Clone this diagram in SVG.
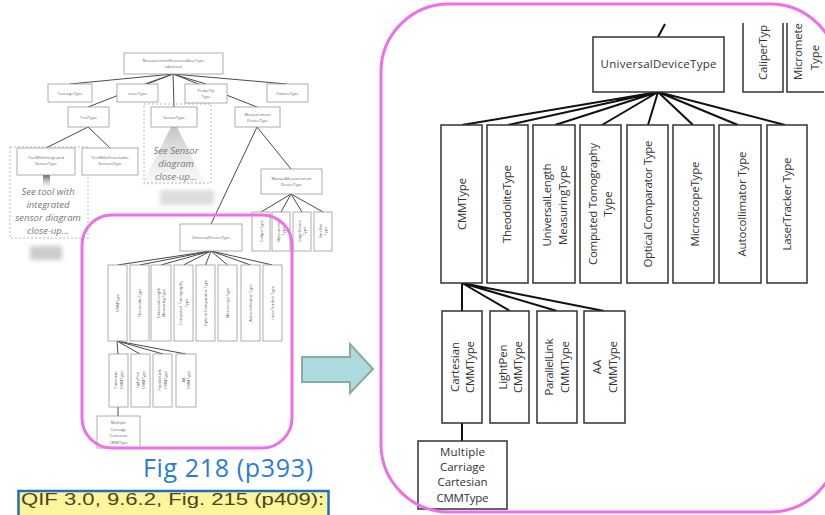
<svg xmlns="http://www.w3.org/2000/svg" width="825" height="515" viewBox="0 0 825 515">
<style>
.tb{fill:#fff;stroke:#9a9a9a;stroke-width:0.8}
.tl{stroke:#4a4a4a;stroke-width:1;fill:none}
.tt{font-family:"Open Sans",sans-serif;font-size:4px;fill:#666;text-anchor:middle}
.dash{fill:none;stroke:#aaa;stroke-width:0.8;stroke-dasharray:2,2}
.note{font-family:"Open Sans",sans-serif;font-style:italic;font-size:9.5px;fill:#777;text-anchor:middle}
.bb{fill:#fff;stroke:#333;stroke-width:1.5}
.bl{stroke:#111;stroke-width:2;fill:none}
.bt{font-family:"Open Sans",sans-serif;font-size:11.5px;fill:#333;text-anchor:middle}
.pink{fill:none;stroke:#ee6fe8;stroke-width:3}
</style>
<defs>
<linearGradient id="spot" x1="0" y1="0" x2="0" y2="1">
<stop offset="0" stop-color="#aaa" stop-opacity="0.7"/>
<stop offset="1" stop-color="#e4e4e4" stop-opacity="0.2"/>
</linearGradient>
<linearGradient id="bar" x1="0" y1="0" x2="0" y2="1">
<stop offset="0" stop-color="#555" stop-opacity="0.9"/>
<stop offset="1" stop-color="#bbb" stop-opacity="0"/>
</linearGradient>
<filter id="blur" x="-20%" y="-50%" width="140%" height="200%"><feGaussianBlur stdDeviation="2"/></filter>
</defs>
<rect width="825" height="515" fill="#fff"/>

<!-- decorative faded bits -->
<polygon points="171,127 177,127 206,185 142,185" fill="url(#spot)"/>
<rect x="43" y="175" width="7" height="13" fill="url(#bar)"/>
<rect x="30" y="246" width="32" height="14" fill="#ccc" filter="url(#blur)"/>
<rect x="160" y="190" width="54" height="15" fill="#ddd" filter="url(#blur)"/>

<!-- thumbnail connectors -->
<g id="thumb-connectors" class="tl">
<path d="M173 74 L70 84 M173 74 L145 84 M173 74 L88 107 M173 74 L174 107 M173 74 L206 84 M173 74 L257 107 M173 74 L287 84"/>
<path d="M88 127 L46 148 M88 127 L110 148"/>
<path d="M257 127 L211 224 M257 127 L291 169"/>
<path d="M291 194 L261 212 M291 194 L281 212 M291 194 L302 212 M291 194 L323 212"/>
<path d="M211 251 L117.5 265 M211 251 L139.5 265 M211 251 L161 265 M211 251 L183.5 265 M211 251 L205.5 265 M211 251 L227.5 265 M211 251 L250.5 265 M211 251 L272.5 265"/>
<path d="M117 341 L118 354 M117 341 L140 354 M117 341 L163 354 M117 341 L186 354"/>
<path d="M118 407 L118 416"/>
</g>

<!-- thumbnail nodes -->
<g id="t-base"><rect class="tb" x="124" y="53" width="99" height="21"/><text class="tt" x="173.5" y="62">MeasurementResourceBaseType</text><text class="tt" x="173.5" y="68">(abstract)</text></g>
<g id="t-carriage"><rect class="tb" x="48" y="84" width="44" height="18"/><text class="tt" x="70" y="94.5">CarriageType</text></g>
<g id="t-laser"><rect class="tb" x="117" y="84" width="41" height="18"/><text class="tt" x="137.5" y="94.5">LaserType</text></g>
<g id="t-probetip"><rect class="tb" x="185" y="84" width="42" height="19"/><text class="tt" x="206" y="92">ProbeTip</text><text class="tt" x="206" y="97.5">Type</text></g>
<g id="t-fixture"><rect class="tb" x="267" y="84" width="41" height="18"/><text class="tt" x="287.5" y="94.5">FixtureType</text></g>
<g id="t-tool"><rect class="tb" x="68" y="107" width="41" height="20"/><text class="tt" x="88.5" y="118.5">ToolType</text></g>
<g id="t-sensor"><rect class="dash" x="144" y="104" width="67" height="79"/><rect class="tb" x="151" y="107" width="46" height="20"/><text class="tt" x="174" y="118.5">SensorType</text>
<text class="note" x="176" y="154">See Sensor</text><text class="note" x="176" y="167">diagram</text><text class="note" x="176" y="180">close-up...</text></g>
<g id="t-measdev"><rect class="tb" x="235" y="107" width="45" height="20"/><text class="tt" x="257.5" y="115.5">Measurement</text><text class="tt" x="257.5" y="121.5">DeviceType</text></g>
<g id="t-toolint"><rect class="dash" x="10" y="147" width="78" height="91"/><rect class="tb" x="17" y="148" width="58" height="27"/><text class="tt" x="46" y="159">ToolWithIntegrated</text><text class="tt" x="46" y="165">SensorType</text>
<text class="note" x="48" y="195">See tool with</text><text class="note" x="48" y="208">integrated</text><text class="note" x="48" y="221">sensor diagram</text><text class="note" x="48" y="234">close-up...</text></g>
<g id="t-tooldet"><rect class="tb" x="82" y="148" width="56" height="27"/><text class="tt" x="110" y="159">ToolWithDetachable</text><text class="tt" x="110" y="165">SensorsType</text></g>
<g id="t-manual"><rect class="tb" x="261" y="169" width="61" height="25"/><text class="tt" x="291.5" y="179.5">ManualMeasurement</text><text class="tt" x="291.5" y="186">DeviceType</text></g>
<g id="t-caliper"><rect class="tb" x="252" y="212" width="18" height="39"/><text class="tt" transform="translate(262.5,231) rotate(-90)">CaliperType</text></g>
<g id="t-micrometer"><rect class="tb" x="272" y="212" width="18" height="39"/><text class="tt" transform="translate(280,231) rotate(-90)">Micrometer</text><text class="tt" transform="translate(285,231) rotate(-90)">Type</text></g>
<g id="t-gage"><rect class="tb" x="293" y="212" width="18" height="39"/><text class="tt" transform="translate(301,231) rotate(-90)">GageDevice</text><text class="tt" transform="translate(306,231) rotate(-90)">Type</text></g>
<g id="t-sinebar"><rect class="tb" x="314" y="212" width="18" height="39"/><text class="tt" transform="translate(322,231) rotate(-90)">SineBar</text><text class="tt" transform="translate(327,231) rotate(-90)">Type</text></g>
<g id="t-udt"><rect class="tb" x="180" y="224" width="62" height="27"/><text class="tt" x="211" y="239">UniversalDeviceType</text></g>
<g id="t-cmm"><rect class="tb" x="108" y="265" width="19" height="76"/><text class="tt" transform="translate(119,303) rotate(-90)">CMMType</text></g>
<g id="t-theo"><rect class="tb" x="130" y="265" width="19" height="76"/><text class="tt" transform="translate(141,303) rotate(-90)">TheodoliteType</text></g>
<g id="t-ulm"><rect class="tb" x="151" y="265" width="20" height="76"/><text class="tt" transform="translate(159.5,303) rotate(-90)">UniversalLength</text><text class="tt" transform="translate(165,303) rotate(-90)">MeasuringType</text></g>
<g id="t-ct"><rect class="tb" x="174" y="265" width="19" height="76"/><text class="tt" transform="translate(182,303) rotate(-90)">Computed Tomography</text><text class="tt" transform="translate(187.5,303) rotate(-90)">Type</text></g>
<g id="t-optical"><rect class="tb" x="196" y="265" width="19" height="76"/><text class="tt" transform="translate(207,303) rotate(-90)">Optical Comparator Type</text></g>
<g id="t-micro"><rect class="tb" x="218" y="265" width="19" height="76"/><text class="tt" transform="translate(229,303) rotate(-90)">MicroscopeType</text></g>
<g id="t-auto"><rect class="tb" x="241" y="265" width="19" height="76"/><text class="tt" transform="translate(252,303) rotate(-90)">Autocollimator Type</text></g>
<g id="t-laser-tr"><rect class="tb" x="263" y="265" width="19" height="76"/><text class="tt" transform="translate(274,303) rotate(-90)">LaserTracker Type</text></g>
<g id="t-cart"><rect class="tb" x="109" y="354" width="19" height="53"/><text class="tt" transform="translate(117,380) rotate(-90)">Cartesian</text><text class="tt" transform="translate(122.5,380) rotate(-90)">CMMType</text></g>
<g id="t-light"><rect class="tb" x="131" y="354" width="19" height="53"/><text class="tt" transform="translate(139,380) rotate(-90)">LightPen</text><text class="tt" transform="translate(144.5,380) rotate(-90)">CMMType</text></g>
<g id="t-par"><rect class="tb" x="153" y="354" width="19" height="53"/><text class="tt" transform="translate(161,380) rotate(-90)">ParallelLink</text><text class="tt" transform="translate(166.5,380) rotate(-90)">CMMType</text></g>
<g id="t-aa"><rect class="tb" x="176" y="354" width="20" height="53"/><text class="tt" transform="translate(184.5,380) rotate(-90)">AA</text><text class="tt" transform="translate(190,380) rotate(-90)">CMMType</text></g>
<g id="t-multi"><rect class="tb" x="97" y="416" width="43" height="32"/><text class="tt" x="118.5" y="424">Multiple</text><text class="tt" x="118.5" y="430.5">Carriage</text><text class="tt" x="118.5" y="437">Cartesian</text><text class="tt" x="118.5" y="443.5">CMMType</text></g>

<rect class="pink" x="82" y="215" width="210" height="233" rx="30"/>

<!-- arrow -->
<polygon points="302,357 350,357 350,344 373,369 350,393 350,382 302,382" fill="#acdadd" stroke="#8aa9a9" stroke-width="2"/>

<!-- captions -->
<text x="143" y="477" font-family="'Open Sans',sans-serif" font-size="25" fill="#2b7cd3" textLength="170">Fig 218 (p393)</text>
<rect x="18.5" y="491" width="310" height="30" fill="#fbf59c" stroke="#1f6fc0" stroke-width="2.5"/>
<text transform="translate(21,505) scale(1.3,1)" font-family="'Liberation Sans',Arial,sans-serif" font-size="17" fill="#4a4620">QIF 3.0, 9.6.2, Fig. 215 (p409):</text>

<!-- big view connectors -->
<g id="connectors" class="bl">
<path d="M658 37 L665 24"/>
<path d="M658 92 L462 125 M658 92 L508 125 M658 92 L555 125 M658 92 L602 125 M658 92 L648 125 M658 92 L693 125 M658 92 L738 125 M658 92 L785 125"/>
<path d="M462 283 L462 311 M462 283 L510 311 M462 283 L557 311 M462 283 L604 311"/>
<path d="M462 423 L462 441"/>
</g>

<!-- big view nodes -->
<g id="udt"><rect class="bb" x="593" y="37" width="131" height="55"/><text class="bt" x="658.5" y="68" textLength="116">UniversalDeviceType</text></g>
<g id="caliper"><path d="M743 23 V92 H783 V23" fill="#fff" stroke="#333" stroke-width="1.5"/><text class="bt" transform="translate(767,52.5) rotate(-90)" textLength="55">CaliperTyp</text></g>
<g id="micrometer"><path d="M787 23 V92 H824" fill="none" stroke="#333" stroke-width="1.5"/><text class="bt" transform="translate(802,51.5) rotate(-90)" textLength="57">Micromete</text><text class="bt" transform="translate(819,57.5) rotate(-90)">Type</text></g>
<g id="cmm"><rect class="bb" x="441" y="125" width="41" height="158"/><text class="bt" transform="translate(466,204) rotate(-90)" textLength="52">CMMType</text></g>
<g id="theodolite"><rect class="bb" x="487" y="125" width="41" height="158"/><text class="bt" transform="translate(511,204) rotate(-90)" textLength="78">TheodoliteType</text></g>
<g id="ulm"><rect class="bb" x="533" y="125" width="42" height="158"/><text class="bt" transform="translate(551,205) rotate(-90)" textLength="83">UniversalLength</text><text class="bt" transform="translate(567,205) rotate(-90)" textLength="80">MeasuringType</text></g>
<g id="ct"><rect class="bb" x="580" y="125" width="41" height="158"/><text class="bt" transform="translate(597,204) rotate(-90)" textLength="122">Computed  Tomography</text><text class="bt" transform="translate(612,204) rotate(-90)">Type</text></g>
<g id="optical"><rect class="bb" x="627" y="125" width="41" height="158"/><text class="bt" transform="translate(652,204) rotate(-90)" textLength="127">Optical Comparator Type</text></g>
<g id="microscope"><rect class="bb" x="673" y="125" width="41" height="158"/><text class="bt" transform="translate(699,204) rotate(-90)" textLength="85">MicroscopeType</text></g>
<g id="autocollimator"><rect class="bb" x="719" y="125" width="42" height="158"/><text class="bt" transform="translate(746,204) rotate(-90)" textLength="105">Autocollimator Type</text></g>
<g id="lasertracker"><rect class="bb" x="767" y="125" width="40" height="158"/><text class="bt" transform="translate(791,204) rotate(-90)" textLength="93">LaserTracker Type</text></g>
<g id="cartesian"><rect class="bb" x="442" y="311" width="40" height="112"/><text class="bt" transform="translate(459,367) rotate(-90)" textLength="50">Cartesian</text><text class="bt" transform="translate(474,367) rotate(-90)" textLength="52">CMMType</text></g>
<g id="lightpen"><rect class="bb" x="490" y="311" width="39" height="112"/><text class="bt" transform="translate(507,367) rotate(-90)" textLength="45">LightPen</text><text class="bt" transform="translate(522,367) rotate(-90)" textLength="52">CMMType</text></g>
<g id="parallellink"><rect class="bb" x="537" y="311" width="40" height="112"/><text class="bt" transform="translate(553,367) rotate(-90)" textLength="57">ParallelLink</text><text class="bt" transform="translate(569,367) rotate(-90)" textLength="52">CMMType</text></g>
<g id="aa"><rect class="bb" x="584" y="311" width="41" height="112"/><text class="bt" transform="translate(601,367) rotate(-90)">AA</text><text class="bt" transform="translate(617,367) rotate(-90)" textLength="52">CMMType</text></g>
<g id="multiple"><rect class="bb" x="418" y="441" width="89" height="68"/><text class="bt" x="462.5" y="456" textLength="45">Multiple</text><text class="bt" x="462.5" y="471" textLength="45">Carriage</text><text class="bt" x="462.5" y="486" textLength="50">Cartesian</text><text class="bt" x="462.5" y="502" textLength="52">CMMType</text></g>

<rect class="pink" x="381" y="4" width="457" height="508" rx="68"/>
</svg>
